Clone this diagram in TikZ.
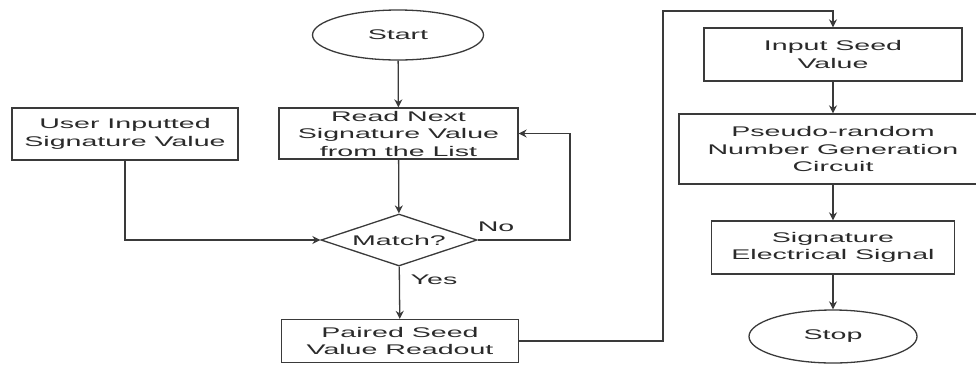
\documentclass[tikz,border=0pt]{standalone}
\usepackage{fontspec}
\setmainfont[FakeStretch=2.04]{Liberation Sans}
\usetikzlibrary{shapes.geometric,arrows.meta}
\definecolor{ln}{HTML}{3A3A3A}
\definecolor{tx}{HTML}{2A2A2A}
\begin{document}
\begin{tikzpicture}[x=1pt,y=-1pt,
  lbl/.style={font=\fontsize{14}{17.5}\selectfont, text=tx, inner sep=0pt, align=center},
  box/.style={lbl, draw=ln, line width=1.3pt, rectangle},
  oval/.style={lbl, draw=ln, line width=1.3pt, ellipse},
  decision/.style={lbl, draw=ln, line width=1.3pt, diamond, aspect=3},
  arr/.style={draw=ln, line width=1.3pt, -{Stealth[length=8pt,width=8pt]}}]
\useasboundingbox (0,0) rectangle (976,365);
\node[oval, minimum width=171pt, minimum height=50pt] (start) at (398,35) {Start};
\node[box, minimum width=239pt, minimum height=51pt] (read) at (398.5,133.5) {Read Next\\Signature Value\\from the List};
\node[box, minimum width=226pt, minimum height=52pt] (user) at (125,134) {User Inputted\\Signature Value};
\node[decision, minimum width=156pt, minimum height=52pt] (dia) at (399,240) {Match?};
\node[box, minimum width=237pt, minimum height=43pt] (paired) at (400,341) {Paired Seed\\Value Readout};
\node[box, minimum width=258pt, minimum height=53pt] (input) at (833,54.5) {Input Seed\\Value};
\node[box, minimum width=308pt, minimum height=70pt] (prng) at (833,149) {Pseudo-random\\Number Generation\\Circuit};
\node[box, minimum width=243pt, minimum height=53pt] (sig) at (833,247.5) {Signature\\Electrical Signal};
\node[oval, minimum width=168pt, minimum height=53pt] (stop) at (833,336.5) {Stop};
\node[lbl] (no) at (496,227) {No};
\node[lbl] (yes) at (434,280) {Yes};
\coordinate (nocorner) at (570,240);
\coordinate (up) at (663,11);
\draw[arr] (start) -- (read);
\draw[arr] (read) -- (dia);
\draw[arr] (user.south) |- (dia.west);
\draw[arr] (dia.east) -- (nocorner) |- (read.east);
\draw[arr] (dia) -- (paired);
\draw[arr] (paired.east) -| (up) -| (input.north);
\draw[arr] (input) -- (prng);
\draw[arr] (prng) -- (sig);
\draw[arr] (sig) -- (stop);
\end{tikzpicture}
\end{document}
